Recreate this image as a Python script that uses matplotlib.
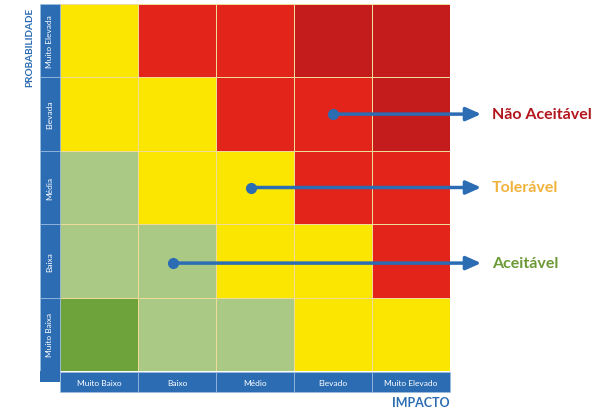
import numpy as np
import matplotlib
matplotlib.use('Agg')
import matplotlib.pyplot as plt
from matplotlib.colors import ListedColormap, BoundaryNorm
from matplotlib.patches import Rectangle

# dados da matriz de risco
impacto = ['Muito Baixo', 'Baixo', 'Médio', 'Elevado', 'Muito Elevado']
probabilidade = ['Muito Elevada', 'Elevada', 'Média', 'Baixa', 'Muito Baixa']  # de cima para baixo
# 0 verde escuro, 1 verde claro, 2 amarelo, 3 vermelho, 4 vermelho escuro
niveis = [
    [2, 3, 3, 4, 4],
    [2, 2, 3, 3, 4],
    [1, 2, 2, 3, 3],
    [1, 1, 2, 2, 3],
    [0, 1, 1, 2, 2],
]
classes = ['Não Aceitável', 'Tolerável', 'Aceitável']
classe_cor = ['#b3161c', '#f0b23a', '#6b9a35']
classe_celula = [(3.5, 1.5), (2.45, 2.5), (1.45, 3.53)]  # (impacto, probabilidade) do ponto

cores = ['#6ea23a', '#a9c985', '#fae600', '#e3241b', '#c41b1c']
azul = '#2b6cb3'

fig = plt.figure(figsize=(6.13, 4.10), dpi=100)
ax = fig.add_axes([60/613, 1-372/410, 390/613, 367/410])

cmap = ListedColormap(cores)
norm = BoundaryNorm(np.arange(-0.5, 5.5, 1), cmap.N)
ax.pcolormesh(np.arange(6), np.arange(6), np.array(niveis), cmap=cmap, norm=norm,
              edgecolors='#eedc98', linewidth=0.5)
ax.set_xlim(0, 5)
ax.set_ylim(5, 0)
ax.axis('off')

# barras azuis com rótulos
bw = 20/78
bh = 20/73.4
for i, nome in enumerate(probabilidade):
    ax.add_patch(Rectangle((-bw, i), bw, 1, facecolor=azul, edgecolor='#9fbfe0',
                           linewidth=0.5, clip_on=False))
    ax.text(-bw/2, i+0.5, nome, rotation=90, ha='center', va='center',
            color='white', fontsize=6, family='Lato')
ax.add_patch(Rectangle((-bw, 5), bw, 0.15, facecolor=azul, edgecolor='none', clip_on=False))
for j, nome in enumerate(impacto):
    ax.add_patch(Rectangle((j, 5.02), 1, bh, facecolor=azul, edgecolor='#9fbfe0',
                           linewidth=0.5, clip_on=False))
    ax.text(j+0.5, 5.02+bh/2, nome, ha='center', va='center',
            color='white', fontsize=6, family='Lato')

ax.text(-0.39, 0.04, 'PROBABILIDADE', rotation=90, ha='center', va='top',
        color=azul, fontsize=7.2, fontweight='bold', family='Lato')
ax.text(5.0, 5.42, 'IMPACTO', ha='right', va='center',
        color=azul, fontsize=9, fontweight='bold', family='Lato')

# setas para as classes
for nome, cor, (cx, cy) in zip(classes, classe_cor, classe_celula):
    ax.plot(cx, cy, 'o', color=azul, markersize=7, clip_on=False, zorder=5)
    ax.annotate('', xy=(5.4, cy), xytext=(cx, cy),
                arrowprops=dict(arrowstyle='-|>,head_length=0.9,head_width=0.4',
                                color=azul, lw=2.5, shrinkA=0, shrinkB=0),
                annotation_clip=False, zorder=5)
    ax.text(5.54, cy, nome, ha='left', va='center', color=cor,
            fontsize=11.5, fontweight='bold', family='Lato')

fig.savefig('out.png', dpi=100)
